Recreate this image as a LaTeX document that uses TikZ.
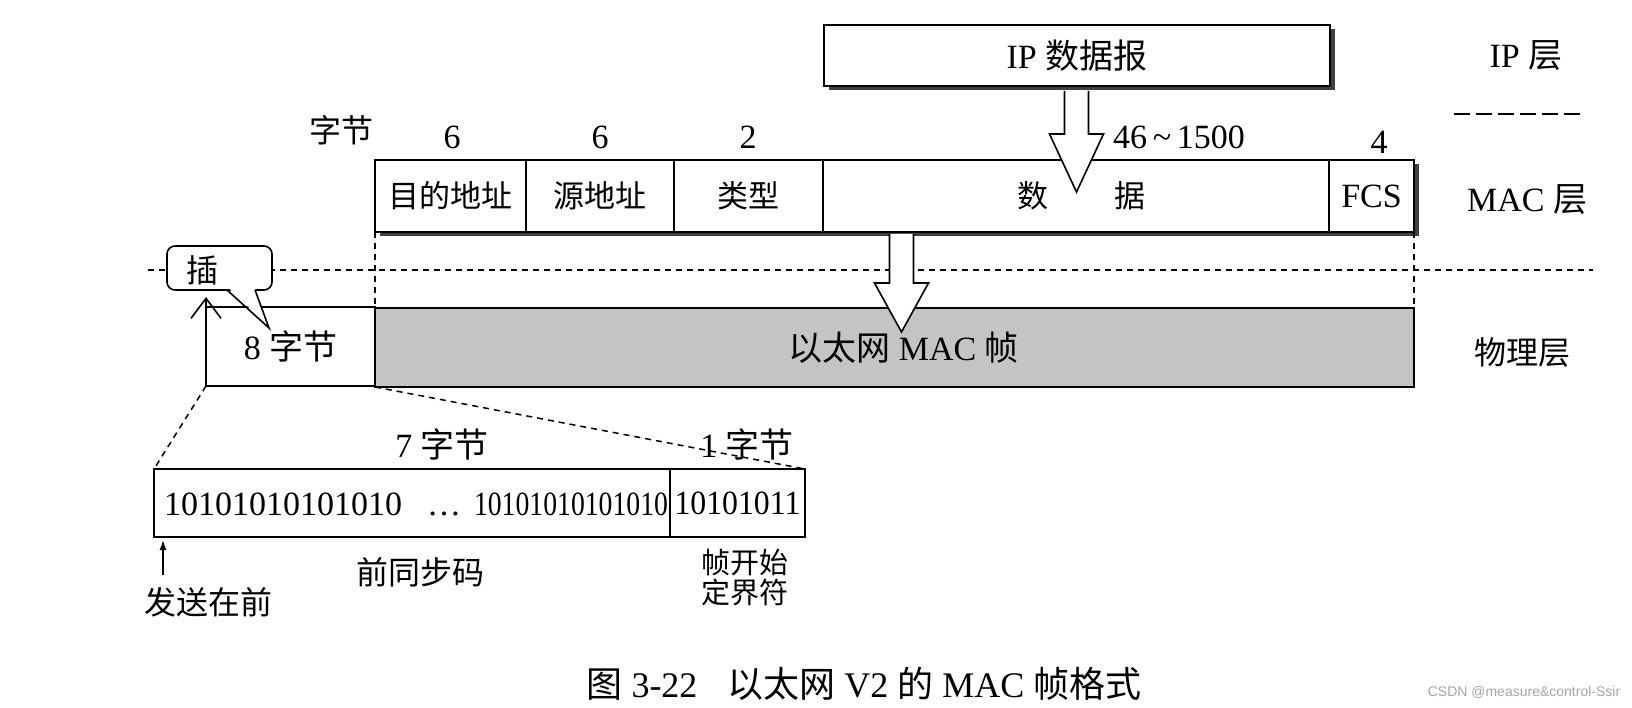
\documentclass[tikz,border=0pt]{standalone}
\usepackage{fontspec}
\usepackage{graphicx}
\setmainfont{Liberation Serif}
\newfontfamily\cjk{Noto Sans CJK SC}
\newfontfamily\wmfont{Liberation Sans}
\usetikzlibrary{arrows.meta,calc}
\newcommand\zh[1]{{\cjk #1}}
\definecolor{frame}{gray}{0.77}
\begin{document}
\begin{tikzpicture}[x=1pt,y=-1pt,
  every node/.style={inner sep=0pt, outer sep=0pt, font=\fontsize{34}{40}\selectfont},
  cell/.style={draw, line width=1.6pt, fill=white, minimum height=72pt},
  dsh/.style={line width=1.5pt, dash pattern=on 6pt off 5pt},
  hollow/.style={draw, line width=1.6pt, fill=white, line join=miter},
  shad/.style={fill=black!75},
  zhsz/.style={font=\fontsize{32}{36}\selectfont\cjk},
  zhcell/.style={font=\fontsize{31}{36}\selectfont\cjk}
]
\useasboundingbox (0,0) rectangle (1632,708);
\fill[white] (0,0) rectangle (1632,708);

% IP datagram box
\fill[shad] (828.5,29.5) rectangle (1334.5,90.5);
\node[cell, minimum width=506pt, minimum height=61pt] (ip) at (1077,55.5) {IP \zh{数据报}};

% labels above MAC row
\node[zhsz] (byt) at (341,130) {字节};
\node (n1) at (452,137) {6};
\node (n2) at (600,137) {6};
\node (n3) at (748,137) {2};
\node (n4) at (1179,137) {46\,\textasciitilde\,1500};
\node (n5) at (1379,142) {4};

% layer labels
\node (lip) at (1526,56) {IP \zh{层}};
\node (lmac) at (1527,200) {MAC \zh{层}};
\node[zhsz] (lphy) at (1522,352) {物理层};
\coordinate (sl) at (1454,114);
\coordinate (sr) at (1583,114);
\draw[line width=1.6pt, dash pattern=on 16pt off 6pt] (sl) -- (sr);

% long dashed separator
\coordinate (dl) at (148,270);
\coordinate (dr) at (1593,270);
\draw[dsh] (dl) -- (dr);

% MAC row
\fill[shad] (379.5,164.5) rectangle (1418.5,236.5);
\node[cell, zhcell, minimum width=151pt] (dst) at (450.5,196) {目的地址};
\node[cell, zhcell, minimum width=148pt] (src) at (600,196) {源地址};
\node[cell, zhcell, minimum width=149pt] (typ) at (748.5,196) {类型};
\node[cell, zhcell, minimum width=506pt] (dat) at (1076,196) {\hspace{10pt}数\hspace{66pt}据};
\node[cell, minimum width=85pt] (fcs) at (1371.5,196) {FCS};

% arrow IP -> data
\draw[hollow] (1064.5,91) -- (1064.5,134) -- (1049.5,134) -- (1076.5,192) -- (1103.5,134) -- (1088.5,134) -- (1088.5,91);

% physical layer row
\node[cell, minimum width=169pt, minimum height=79pt] (pre) at (290.5,346.5) {8 \zh{字节}};
\node[cell, fill=frame, minimum width=1039pt, minimum height=79pt] (frm) at (894.5,347.5) {\hspace{18pt}\zh{以太网} MAC \zh{帧}};

% vertical dashed lines MAC -> physical
\draw[dsh] (dst.south west) -- (frm.north west);
\draw[dsh] (fcs.south east) -- (frm.north east);

% arrow MAC -> physical
\draw[hollow] (889.5,234) -- (889.5,283) -- (874.5,283) -- (901.5,332) -- (928.5,283) -- (913.5,283) -- (913.5,234);

% insert arrow
\coordinate (ins) at (206,297);
\draw[line width=1.6pt, -{Straight Barb[length=20pt,width=30pt,line width=1.6pt]}] (pre.south west) -- (ins);

% bubble
\node[draw, line width=1.6pt, fill=white, rounded corners=8pt, minimum width=105pt, minimum height=44pt] (bub) at (219.5,268) {};
\node[zhsz] (bubt) at (202,270) {插};
\fill[white] (228,287.5) -- (254.5,287.5) -- (268,326) -- cycle;
\draw[line width=1.6pt, line join=miter] ($(bub.south west)+(60,0)$) -- (269,328) -- ($(bub.south west)+(88,0)$);

% preamble detail
\node[cell, minimum width=516pt, minimum height=68pt] (pa) at (412,503) {};
\node[cell, minimum width=135pt, minimum height=68pt] (sfd) at (737.5,503) {\resizebox{126pt}{\height}{10101011}};
\node[anchor=base west] (g1) at (164,515) {10101010101010};
\node[anchor=base] (dots) at (444,515) {\dots};
\node[anchor=base east] (g2) at (668,515) {\resizebox{194pt}{\height}{10101010101010}};

\draw[dsh] (pre.south west) -- (pa.north west);
\draw[dsh] (frm.south west) -- (sfd.north east);

\node (b7) at (442,444) {7 \zh{字节}};
\node (b1) at (747,444) {1 \zh{字节}};
\node[zhsz] (pcode) at (420,572) {前同步码};
\node[font=\fontsize{29}{30}\selectfont\cjk, align=center] (sfdt) at (745,578) {帧开始\\定界符};
\node[zhsz] (first) at (208,602) {发送在前};
\coordinate (fa) at (163,575);
\coordinate (fb) at (163,540);
\draw[line width=1.4pt, -{Latex[length=10pt,width=7pt]}] (fa) -- (fb);

% caption
\node[font=\fontsize{36}{40}\selectfont] (cap) at (864,684) {\zh{图} 3-22\hspace{30pt}\zh{以太网} V2 \zh{的} MAC \zh{帧格式}};
\node[font=\fontsize{14}{16}\selectfont\wmfont, text=black!35] (wm) at (1524,692) {CSDN @measure\&control-Ssir};
\end{tikzpicture}
\end{document}
